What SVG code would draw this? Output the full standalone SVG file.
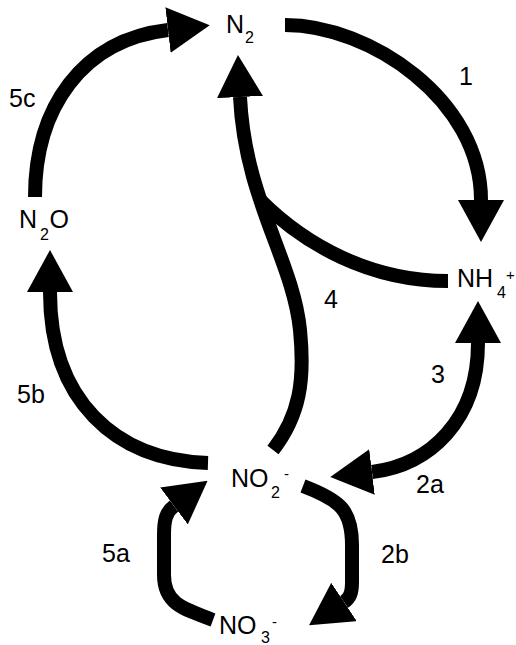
<svg xmlns="http://www.w3.org/2000/svg" width="516" height="645" viewBox="0 0 516 645">
  <style>
    text { font-family: "Liberation Sans", Arial, sans-serif; font-size: 25px; fill: #000; }
    .sub { font-size: 16px; }
    .sup { font-size: 15px; }
    .flow { fill: none; stroke: #000; stroke-width: 14; stroke-linecap: butt; stroke-linejoin: round; }
    .head { marker-end: url(#arrow); }
  </style>
  <defs>
    <marker id="arrow" viewBox="0 0 42 46" refX="0" refY="23" markerUnits="userSpaceOnUse" markerWidth="42" markerHeight="46" orient="auto-start-reverse">
      <path d="M0 0 L42 23 L0 46 Z" fill="#000"/>
    </marker>
  </defs>

  <!-- transformation pathways -->
  <g id="connectors">
    <!-- 5c: N2O to N2 -->
    <path id="p5c" class="flow head" d="M35 197 C35 108, 82 40, 168 30"/>
    <!-- 1: N2 to NH4+ -->
    <path id="p1" class="flow head" d="M285 25 C370 25, 481 100, 481 200"/>
    <!-- 4: NO2- and NH4+ merging toward N2 -->
    <path id="p4" class="flow head" d="M273 450 C300 415, 305 380, 300 330 C293 260, 245 200, 240 97"/>
    <path id="p4b" class="flow" d="M448 281 C370 281, 305 245, 260 200"/>
    <!-- 5b: NO2- to N2O -->
    <path id="p5b" class="flow head" d="M208 463 C115 460, 50 400, 50 292"/>
    <!-- 3 / 2a: NO2- and NH4+ both ways -->
    <path id="p3" class="flow head" marker-start="url(#arrow)" d="M372 472 C430 465, 478 420, 478 343"/>
    <!-- 2b: NO2- to NO3- -->
    <path id="p2b" class="flow head" d="M303 486 C340 500, 352 510, 352 545 L352 582 C352 593, 350 598, 344 602"/>
    <!-- 5a: NO3- to NO2- -->
    <path id="p5a" class="flow head" d="M213 620 C180 608, 164 602, 164 575 L164 535 C164 520, 166 512, 174 506"/>
  </g>

  <!-- species -->
  <g id="n2">
    <text x="226" y="33">N</text>
    <text class="sub" x="245" y="43">2</text>
  </g>
  <g id="n2o">
    <text x="19" y="228">N</text>
    <text class="sub" x="40" y="240">2</text>
    <text x="49.5" y="228">O</text>
  </g>
  <g id="nh4">
    <text x="457" y="287">NH</text>
    <text class="sub" x="497" y="298">4</text>
    <text class="sup" x="506" y="280">+</text>
  </g>
  <g id="no2">
    <text x="231" y="487">NO</text>
    <text class="sub" x="271" y="498">2</text>
    <text class="sup" x="284" y="479">-</text>
  </g>
  <g id="no3">
    <text x="219" y="634">NO</text>
    <text class="sub" x="261" y="643">3</text>
    <text class="sup" x="272" y="627">-</text>
  </g>

  <!-- step numbers -->
  <g id="labels">
    <text x="459" y="85">1</text>
    <text x="9" y="107">5c</text>
    <text x="324" y="308">4</text>
    <text x="17" y="403">5b</text>
    <text x="431" y="383">3</text>
    <text x="416" y="493">2a</text>
    <text x="381" y="563">2b</text>
    <text x="102" y="562">5a</text>
  </g>
</svg>
